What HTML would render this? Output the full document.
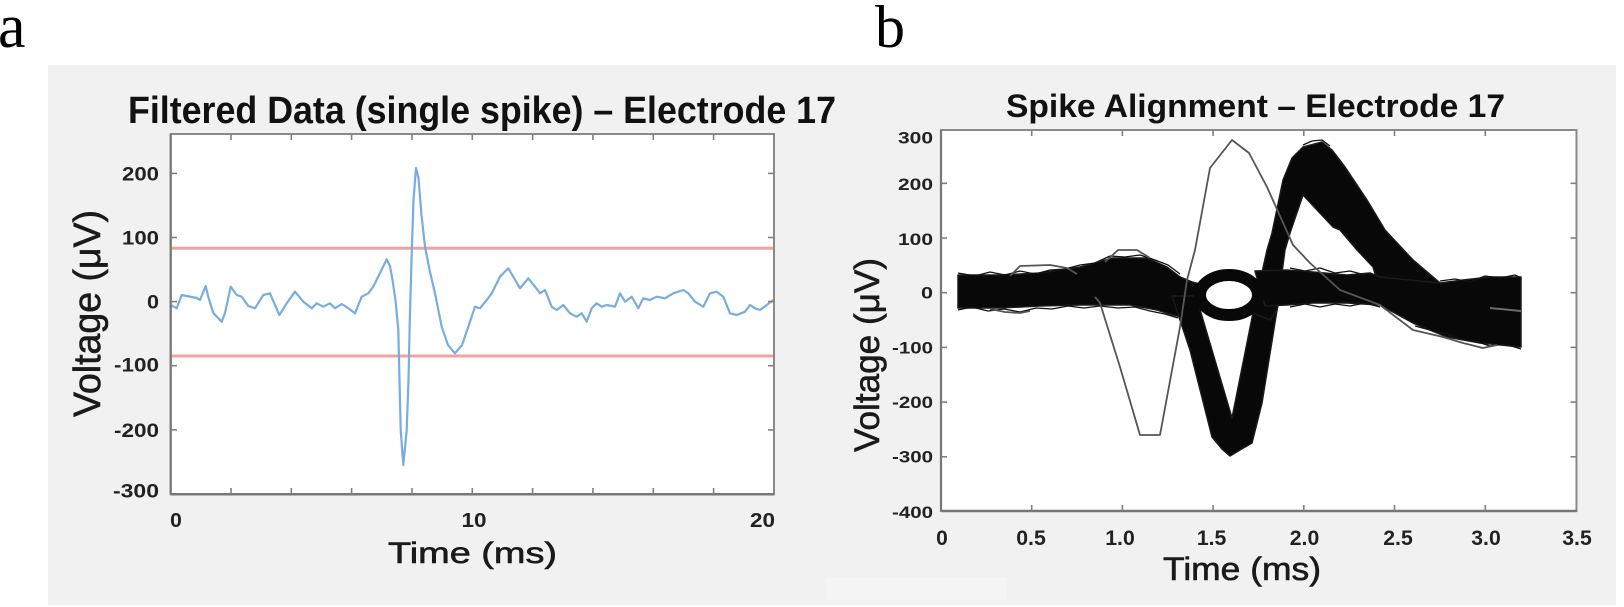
<!DOCTYPE html>
<html>
<head>
<meta charset="utf-8">
<style>
html,body{margin:0;padding:0;background:#fff;}
svg{display:block;}
.tk{font-family:"Liberation Sans",sans-serif;font-weight:bold;fill:#222;}
.ax{font-family:"Liberation Sans",sans-serif;fill:#1a1a1a;stroke:#1a1a1a;stroke-width:0.6;}
.ttl{font-family:"Liberation Sans",sans-serif;font-weight:bold;fill:#111;}
.pl{font-family:"Liberation Serif",serif;fill:#000;}
</style>
</head>
<body>
<svg width="1624" height="607" viewBox="0 0 1624 607" xmlns="http://www.w3.org/2000/svg">
  <rect x="0" y="0" width="1624" height="607" fill="#fff"/>
  <!-- panel letters -->
  <text class="pl" x="-2" y="47" font-size="62">a</text>
  <text class="pl" x="875" y="47" font-size="60">b</text>

  <!-- grey figure background -->
  <rect x="48" y="65" width="1568" height="540" fill="#f1f1f1"/>
  <rect x="826" y="577" width="181" height="23" fill="#f4f4f4"/>

  <!-- ================= LEFT PLOT ================= -->
  <text class="ttl" x="128" y="123" font-size="38" textLength="708" lengthAdjust="spacingAndGlyphs">Filtered Data (single spike) – Electrode 17</text>
  <rect x="170.7" y="134" width="603.3" height="360.3" fill="#fff"/>

  <!-- threshold lines -->
  <line x1="171" y1="248.3" x2="773" y2="248.3" stroke="#f2a3a1" stroke-width="3"/>
  <line x1="171" y1="356" x2="773" y2="356" stroke="#f2a3a1" stroke-width="3"/>

  <!-- signal -->
  <polyline fill="none" stroke="#78ade0" stroke-width="2.2" stroke-linejoin="round" points="
  170.7,305 176.7,308.3 181.7,295 186.7,296 196.7,298 200,300 205.7,286 208.3,297 213.3,313 221.7,321.7 225,313 230.7,286.7
  236.7,295 241.7,296.7 248.3,306 255,308.3 263.3,295 270,293.3 279.3,315 286.7,303.3 295,291.7 303.3,301.7 311.7,308.3
  316.7,303.3 323.3,306.7 330,303.3 335,308.3 341.7,304 348.3,308.3 355,313.3 361.7,296.7 368.3,293.3 373.3,286.7
  380,273 386.7,259.3 390,266 392.5,280 395.5,300 398.3,330 400.7,430 403.3,465 406.7,430 408.5,380 409.8,320 411.5,260
  413.5,200 416,168 418.5,178 421.5,215 425,246.7 430,272 435,293.3 441.7,326.7 448,345 455,353.3 462,345 468.3,326.7
  475,306.7 480,308.3 486.7,300 491.7,293.3 500,276.7 508.3,268.3 513.3,276.7 520,288.3 528.3,278.3 535,286.7 540,293.3
  545,290 551.7,306.7 556.7,310 563.3,305 570,313.3 576.7,316.7 581.7,313.3 586.7,321.7 591.7,308.3 596.7,303.3 601.7,306.7
  606.7,305 615,306.7 620,293.3 625,301.7 631.7,296.7 638.3,308.3 643.3,298.3 650,300 656.7,296.7 665,298.3 673.3,293.3
  683.3,290 688.3,293.3 695,301.7 703.3,306.7 710,293.3 716.7,291.7 723.3,296.7 730,313.3 736.7,315 745,311.7 750,305
  755,308.3 760,310 766.7,305 773.3,300"/>

  <!-- left axes box -->
  <rect x="170.7" y="134" width="603.3" height="360.3" fill="none" stroke="#8a8a8a" stroke-width="2"/>
  <line x1="170.7" y1="494.3" x2="774" y2="494.3" stroke="#777" stroke-width="2.5"/>
  <line x1="170.7" y1="134" x2="170.7" y2="494.3" stroke="#777" stroke-width="2.2"/>
  <g stroke="#808080" stroke-width="1.6">
    <line x1="231" y1="494" x2="231" y2="488"/><line x1="291.3" y1="494" x2="291.3" y2="488"/>
    <line x1="351.6" y1="494" x2="351.6" y2="488"/><line x1="412" y1="494" x2="412" y2="488"/>
    <line x1="472.3" y1="494" x2="472.3" y2="488"/><line x1="532.6" y1="494" x2="532.6" y2="488"/>
    <line x1="592.9" y1="494" x2="592.9" y2="488"/><line x1="653.3" y1="494" x2="653.3" y2="488"/>
    <line x1="713.6" y1="494" x2="713.6" y2="488"/>
    <line x1="231" y1="134" x2="231" y2="140"/><line x1="291.3" y1="134" x2="291.3" y2="140"/>
    <line x1="351.6" y1="134" x2="351.6" y2="140"/><line x1="412" y1="134" x2="412" y2="140"/>
    <line x1="472.3" y1="134" x2="472.3" y2="140"/><line x1="532.6" y1="134" x2="532.6" y2="140"/>
    <line x1="592.9" y1="134" x2="592.9" y2="140"/><line x1="653.3" y1="134" x2="653.3" y2="140"/>
    <line x1="713.6" y1="134" x2="713.6" y2="140"/>
    <line x1="171" y1="173.4" x2="177" y2="173.4"/><line x1="171" y1="237.5" x2="177" y2="237.5"/>
    <line x1="171" y1="301.6" x2="177" y2="301.6"/><line x1="171" y1="365.7" x2="177" y2="365.7"/>
    <line x1="171" y1="429.9" x2="177" y2="429.9"/>
    <line x1="774" y1="173.4" x2="768" y2="173.4"/><line x1="774" y1="237.5" x2="768" y2="237.5"/>
    <line x1="774" y1="301.6" x2="768" y2="301.6"/><line x1="774" y1="365.7" x2="768" y2="365.7"/>
    <line x1="774" y1="429.9" x2="768" y2="429.9"/>
  </g>

  <!-- left tick labels -->
  <g class="tk" font-size="19.5" text-anchor="end">
    <text x="159" y="180.5" textLength="37" lengthAdjust="spacingAndGlyphs">200</text>
    <text x="159" y="244.5" textLength="37" lengthAdjust="spacingAndGlyphs">100</text>
    <text x="159" y="308.6" textLength="12" lengthAdjust="spacingAndGlyphs">0</text>
    <text x="159" y="371.5" textLength="45" lengthAdjust="spacingAndGlyphs">-100</text>
    <text x="159" y="436.9" textLength="45" lengthAdjust="spacingAndGlyphs">-200</text>
    <text x="159" y="497.5" textLength="46" lengthAdjust="spacingAndGlyphs">-300</text>
  </g>
  <g class="tk" font-size="20" text-anchor="middle">
    <text x="176" y="527" textLength="11.7" lengthAdjust="spacingAndGlyphs">0</text>
    <text x="474" y="527" textLength="25" lengthAdjust="spacingAndGlyphs">10</text>
    <text x="762.5" y="527" textLength="25" lengthAdjust="spacingAndGlyphs">20</text>
  </g>
  <text class="ax" x="388" y="563" font-size="30" textLength="169" lengthAdjust="spacingAndGlyphs">Time (ms)</text>
  <text class="ax" font-size="38" text-anchor="middle" transform="translate(100,313.5) rotate(-90)" textLength="207" lengthAdjust="spacingAndGlyphs">Voltage (μV)</text>

  <!-- ================= RIGHT PLOT ================= -->
  <text class="ttl" x="1006" y="117" font-size="32" textLength="499" lengthAdjust="spacingAndGlyphs">Spike Alignment – Electrode 17</text>
  <rect x="941" y="130" width="635.5" height="381" fill="#fff"/>

  <!-- waveform bands -->
  <g fill="#080808" stroke="#1a1a1a" stroke-width="1.5" stroke-linejoin="round">
    <polygon points="958,275 1000,275 1040,273 1080,267 1113,258 1147,258 1167,267 1180,277 1192,282 1200,284 1200,312 1185,318 1173,315 1157,310 1130,305 1080,305 1040,306 1000,308 958,308"/>
    <polygon points="1172,296 1196,296 1232,418 1253,313 1260,296 1280,296 1277,310 1262,403 1252,443 1240,450 1230,456 1222,449 1212,437 1190,350"/>
    <polygon points="1253,313 1267,250 1272,233 1283,180 1292,158 1303,147 1322,142 1332,150 1345,167 1367,200 1385,230 1413,260 1440,283 1440,300 1380,290 1373,267 1357,250 1340,230 1333,227 1303,195 1290,233 1285,250 1277,310 1270,320"/>
    <polygon points="1255,271 1287,270 1313,272 1347,275 1370,273 1380,277 1440,283 1463,280 1490,277 1521,277 1521,347 1480,343 1447,337 1413,323 1380,305 1347,303 1313,303 1287,305 1265,306"/>
  </g>
  <ellipse cx="1229" cy="295" rx="29" ry="20" fill="none" stroke="#080808" stroke-width="12"/>

  <!-- ragged edge traces -->
  <g fill="none" stroke="#111" stroke-width="1.3" stroke-linejoin="round">
    <polyline points="958,273 975,276 990,272 1005,275 1020,271 1035,274 1050,270 1065,269 1080,265 1095,263 1110,256 1125,257 1140,255 1155,260 1168,265 1180,274"/>
    <polyline points="958,310 972,307 988,311 1004,309 1020,312 1036,308 1052,309 1068,306 1084,308 1100,306 1118,308 1135,307 1150,311 1165,314 1178,318"/>
    <polyline points="1290,268 1305,271 1320,268 1335,273 1350,271 1365,275"/>
    <polyline points="1290,307 1305,304 1320,307 1335,304 1350,306 1365,303 1380,307"/>
    <polyline points="1440,281 1455,279 1470,282 1485,276 1500,278 1515,275 1521,278"/>
    <polyline points="1415,326 1430,330 1445,333 1460,339 1475,341 1490,346 1505,344 1521,349"/>
    <polyline points="1303,145 1312,141 1322,140 1330,146"/>
  </g>

  <!-- outlier traces -->
  <g fill="none" stroke="#555" stroke-width="1.8" stroke-linejoin="round">
    <polyline points="1095,297 1100,303 1120,367 1140,435 1160,435 1180,327 1187,280 1195,250 1210,168 1232,140 1249,153 1267,187 1293,245 1310,263 1340,290 1380,305 1413,330 1443,337 1463,343 1483,348 1497,345"/>
    <polyline points="1010,276 1020,266 1050,265 1067,268 1077,274"/>
    <polyline points="1105,262 1118,250 1137,250 1150,258"/>
    <polyline points="990,309 1005,312 1020,313 1030,311"/>
  </g>
  <line x1="1490" y1="308" x2="1521" y2="311" stroke="#6a6a6a" stroke-width="2"/>

  <!-- right axes box -->
  <rect x="941" y="130" width="635.5" height="381" fill="none" stroke="#8a8a8a" stroke-width="2"/>
  <line x1="941" y1="511" x2="1576.5" y2="511" stroke="#777" stroke-width="2.5"/>
  <line x1="941" y1="130" x2="941" y2="511" stroke="#777" stroke-width="2.2"/>
  <g stroke="#808080" stroke-width="1.6">
    <line x1="1031.7" y1="511" x2="1031.7" y2="505"/><line x1="1122.4" y1="511" x2="1122.4" y2="505"/>
    <line x1="1213.1" y1="511" x2="1213.1" y2="505"/><line x1="1303.8" y1="511" x2="1303.8" y2="505"/>
    <line x1="1394.5" y1="511" x2="1394.5" y2="505"/><line x1="1485.3" y1="511" x2="1485.3" y2="505"/>
    <line x1="1031.7" y1="130" x2="1031.7" y2="136"/><line x1="1122.4" y1="130" x2="1122.4" y2="136"/>
    <line x1="1213.1" y1="130" x2="1213.1" y2="136"/><line x1="1303.8" y1="130" x2="1303.8" y2="136"/>
    <line x1="1394.5" y1="130" x2="1394.5" y2="136"/><line x1="1485.3" y1="130" x2="1485.3" y2="136"/>
    <line x1="941" y1="183.3" x2="947" y2="183.3"/><line x1="941" y1="238" x2="947" y2="238"/>
    <line x1="941" y1="292.7" x2="947" y2="292.7"/><line x1="941" y1="347.4" x2="947" y2="347.4"/>
    <line x1="941" y1="402.1" x2="947" y2="402.1"/><line x1="941" y1="456.8" x2="947" y2="456.8"/>
    <line x1="1576.5" y1="183.3" x2="1570.5" y2="183.3"/><line x1="1576.5" y1="238" x2="1570.5" y2="238"/>
    <line x1="1576.5" y1="292.7" x2="1570.5" y2="292.7"/><line x1="1576.5" y1="347.4" x2="1570.5" y2="347.4"/>
    <line x1="1576.5" y1="402.1" x2="1570.5" y2="402.1"/><line x1="1576.5" y1="456.8" x2="1570.5" y2="456.8"/>
  </g>

  <!-- right tick labels -->
  <g class="tk" font-size="16.5" text-anchor="end">
    <text x="933" y="143.5" textLength="35" lengthAdjust="spacingAndGlyphs">300</text>
    <text x="933" y="189.8" textLength="35" lengthAdjust="spacingAndGlyphs">200</text>
    <text x="933" y="244.8" textLength="35" lengthAdjust="spacingAndGlyphs">100</text>
    <text x="933" y="298.5" textLength="12" lengthAdjust="spacingAndGlyphs">0</text>
    <text x="933" y="353.3" textLength="41" lengthAdjust="spacingAndGlyphs">-100</text>
    <text x="933" y="407.8" textLength="41" lengthAdjust="spacingAndGlyphs">-200</text>
    <text x="933" y="462.5" textLength="41" lengthAdjust="spacingAndGlyphs">-300</text>
    <text x="933" y="518" textLength="41" lengthAdjust="spacingAndGlyphs">-400</text>
  </g>
  <g class="tk" font-size="21" text-anchor="middle">
    <text x="942" y="545">0</text>
    <text x="1031" y="545" textLength="29.5" lengthAdjust="spacingAndGlyphs">0.5</text>
    <text x="1120" y="545" textLength="29.5" lengthAdjust="spacingAndGlyphs">1.0</text>
    <text x="1211.6" y="545" textLength="29.5" lengthAdjust="spacingAndGlyphs">1.5</text>
    <text x="1304.5" y="545" textLength="29.5" lengthAdjust="spacingAndGlyphs">2.0</text>
    <text x="1398" y="545" textLength="29.5" lengthAdjust="spacingAndGlyphs">2.5</text>
    <text x="1486" y="545" textLength="29.5" lengthAdjust="spacingAndGlyphs">3.0</text>
    <text x="1577" y="545" textLength="29.5" lengthAdjust="spacingAndGlyphs">3.5</text>
  </g>
  <text class="ax" x="1163" y="580" font-size="32" textLength="158" lengthAdjust="spacingAndGlyphs">Time (ms)</text>
  <text class="ax" font-size="35" text-anchor="middle" transform="translate(879,355) rotate(-90)" textLength="194" lengthAdjust="spacingAndGlyphs">Voltage (μV)</text>
</svg>
</body>
</html>
